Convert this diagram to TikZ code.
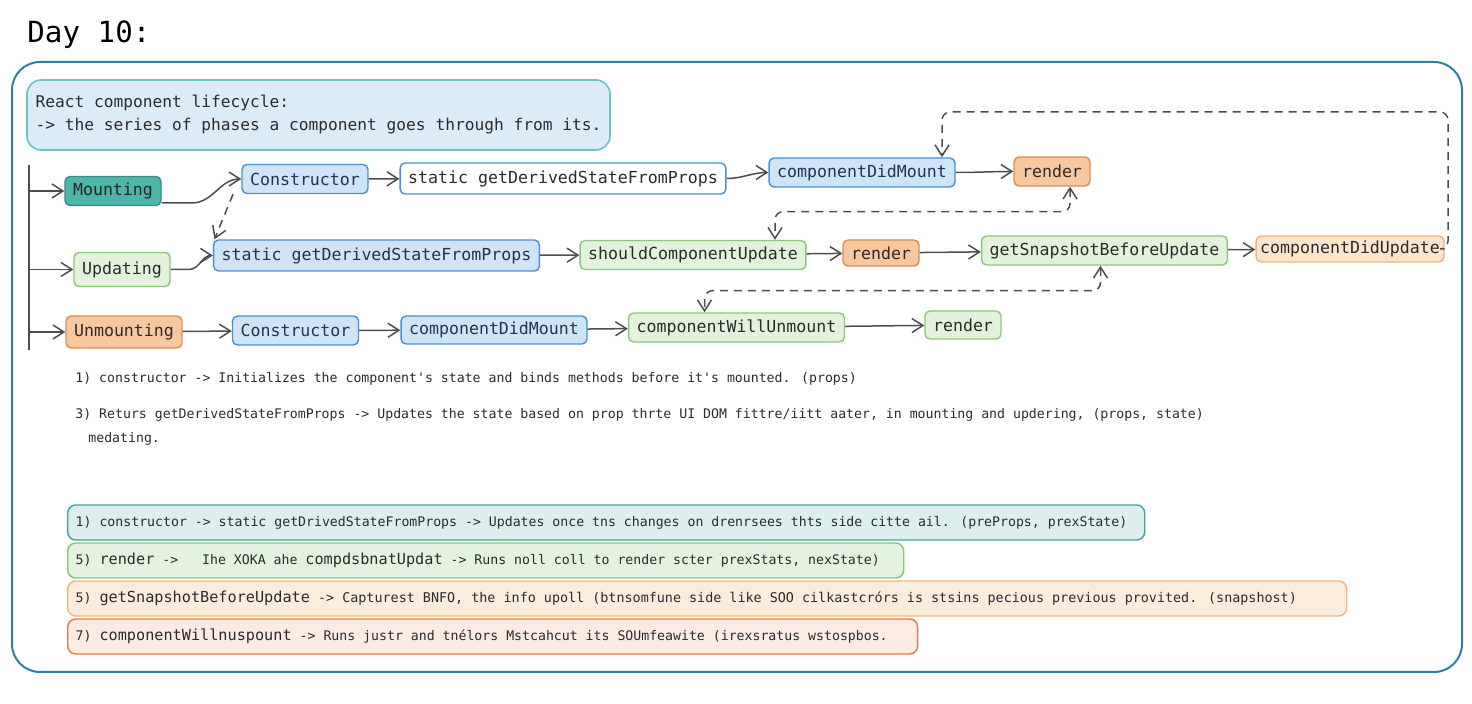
\documentclass[tikz,border=0pt]{standalone}
\usepackage{fontspec}
\setmainfont{DejaVu Sans Mono}
\usepackage{tikz}
\usetikzlibrary{arrows.meta}
\definecolor{ink}{HTML}{2B2B2B}
\definecolor{navyink}{HTML}{1F3550}
\definecolor{wire}{HTML}{4D4D4D}
\definecolor{frameblue}{HTML}{2F7FA0}
\definecolor{bluefill}{HTML}{D0E4F7}
\definecolor{blueline}{HTML}{4A8FD6}
\definecolor{greenfill}{HTML}{E2F2DB}
\definecolor{greenline}{HTML}{8CC67B}
\definecolor{orangefill}{HTML}{F7C8A0}
\definecolor{orangeline}{HTML}{E08A4E}
\definecolor{peachfill}{HTML}{FDE4CE}
\definecolor{peachline}{HTML}{EFB27E}
\definecolor{tealfill}{HTML}{4FB4AA}
\definecolor{tealline}{HTML}{2F8E85}
\definecolor{headfill}{HTML}{DCEBF8}
\definecolor{headline}{HTML}{6CC3C3}
\definecolor{stripteal}{HTML}{3AA89E}
\definecolor{stripgreen}{HTML}{86C471}
\definecolor{strippeach}{HTML}{F0B878}
\definecolor{striporange}{HTML}{E27A45}
\newcommand{\kw}[1]{{\fontsize{7.6}{9}\selectfont #1}}

\begin{document}
\begin{tikzpicture}[x=0.5pt, y=-0.5pt, font=\fontsize{8.3}{10}\selectfont, text=ink,
  >={Straight Barb[length=5.5pt, width=7pt]},
  box/.style={draw, rounded corners=2.5pt, line width=0.7pt, inner xsep=4pt, inner ysep=0pt, minimum height=14.5pt},
  blu/.style={box, fill=bluefill, draw=blueline, text=navyink},
  grn/.style={box, fill=greenfill, draw=greenline},
  org/.style={box, fill=orangefill, draw=orangeline},
  arr/.style={draw=wire, line width=0.75pt, ->},
  dasharr/.style={arr, dash pattern=on 4pt off 3pt, rounded corners=4pt},
  note/.style={anchor=base west, inner sep=0pt, font=\fontsize{6.6}{8}\selectfont},
  strip/.style={anchor=west, rounded corners=4pt, line width=0.7pt, minimum height=17.5pt, inner xsep=4pt, font=\fontsize{6.6}{8}\selectfont}]
  \useasboundingbox (0,0) rectangle (1472,704);

  \node[anchor=base west, inner sep=0pt, font=\fontsize{14.6}{16}\selectfont, text=black] (title) at (27,43) {Day 10:};
  \draw[frameblue, line width=1pt, rounded corners=14pt] (12,62) rectangle (1462,672);
  \node[draw=headline, fill=headfill, rounded corners=7pt, line width=0.8pt, align=left, minimum width=291.5pt, minimum height=35pt, font=\fontsize{8.1}{11.5}\selectfont] (head) at (318.5,115) {React component lifecycle:\\-> the series of phases a component goes through from its.};

  % phases
  \node[box, fill=tealfill, draw=tealline, text=black!85] (mount) at (113,191) {Mounting};
  \node[grn, minimum height=17pt] (upd) at (122,269.5) {Updating};
  \node[org, minimum height=16pt] (unm) at (124,332) {Unmounting};

  % mounting row
  \node[blu] (con1) at (305,179) {Constructor};
  \node[box, fill=white, draw=blueline, minimum height=15.5pt] (gds1) at (563,178.5) {static getDerivedStateFromProps};
  \node[blu] (cdm1) at (862,172.5) {componentDidMount};
  \node[org] (ren1) at (1052,171.5) {render};

  % updating row
  \node[blu, minimum height=15.5pt] (gds2) at (376.5,255.5) {static getDerivedStateFromProps};
  \node[grn] (scu) at (693,255) {shouldComponentUpdate};
  \node[org, minimum height=13pt] (ren2) at (881,253) {render};
  \node[grn] (gsbu) at (1104.5,250.5) {getSnapshotBeforeUpdate};
  \node[box, fill=peachfill, draw=peachline, inner xsep=2pt, minimum height=13pt] (cdu) at (1350,249) {componentDidUpdate};

  % unmounting row
  \node[blu] (con3) at (295.5,330.5) {Constructor};
  \node[blu, minimum height=14pt] (cdm3) at (494,330) {componentDidMount};
  \node[grn] (cwu) at (736.5,327.5) {componentWillUnmount};
  \node[grn, minimum height=14pt] (ren3) at (963,325) {render};

  \coordinate (trunktop) at (29,165);
  \coordinate (trunkbot) at (29,350);
  \draw[wire, line width=0.75pt] (trunktop) -- (trunkbot);
  \foreach \n in {mount, upd, unm} \draw[arr] (trunktop |- \n.west) -- (\n.west);

  \draw[arr] ([yshift=-6pt]mount.east) -- ++(30,0) to[out=0,in=180] (con1.west);
  \draw[arr] (con1) -- (gds1);
  \draw[arr] (gds1.east) to[out=0,in=180] (cdm1.west);
  \draw[arr] (cdm1.east) to[out=0,in=180] (ren1.west);
  \draw[arr] (upd.east) -- ++(18,0) to[out=0,in=180] (gds2.west);
  \draw[arr] (gds2) -- (scu);
  \draw[arr] (scu) -- (ren2);
  \draw[arr] (ren2) -- (gsbu);
  \draw[arr] (gsbu) -- (cdu);
  \draw[arr] (unm) -- (con3);
  \draw[arr] (con3) -- (cdm3);
  \draw[arr] (cdm3) -- (cwu);
  \draw[arr] (cwu) -- (ren3);

  % dashed loops
  \draw[dasharr] ([xshift=-36pt]con1.south) -- ([xshift=-81pt]gds2.north);
  \draw[dasharr] (cdu.east) -| (1448,112) -| ([xshift=40pt]cdm1.north);
  \draw[dasharr, <->] ([xshift=9pt]ren1.south) -- ++(0,25) -| ([xshift=41pt]scu.north);
  \draw[dasharr, <->] ([xshift=-2pt]gsbu.south) -- ++(0,25) -| ([xshift=-16pt]cwu.north);

  % notes
  \node[note] (n1) at (75,383) {1) constructor -> Initializes the component\textquotesingle s state and binds methods before it\textquotesingle s mounted. (props)};
  \node[note] (n2) at (75,419) {3) Returs getDerivedStateFromProps -> Updates the state based on prop thrte UI DOM fittre/iitt aater, in mounting and updering, (props, state)};
  \node[note] (n3) at (88,443) {medating.};

  \node[strip, draw=stripteal, fill=stripteal!18] (s1) at (67,522.5) {\makebox[530.5pt][l]{1) constructor -> static getDrivedStateFromProps -> Updates once tns changes on drenrsees thts side citte ail. (preProps, prexState)}};
  \node[strip, draw=stripgreen, fill=stripgreen!22] (s2) at (67,560.5) {\makebox[410pt][l]{5) \kw{render} ->\ \ \ Ihe XOKA ahe \kw{compdsbnatUpdat} -> Runs noll coll to render scter prexStats, nexState)}};
  \node[strip, draw=strippeach, fill=strippeach!25] (s3) at (67,598.5) {\makebox[631.5pt][l]{5) \kw{getSnapshotBeforeUpdate}{\fontsize{6.7}{8}\selectfont{} -> Capturest BNFO, the info upoll (btnsomfune side like SOO cilkastcrórs is stsins pecious previous provited. (snapshost)}}};
  \node[strip, draw=striporange, fill=striporange!15] (s4) at (67,636.5) {\makebox[417pt][l]{7) \kw{componentWillnuspount} -> Runs justr and tnélors Mstcahcut its SOUmfeawite (irexsratus wstospbos.}};
\end{tikzpicture}
\end{document}
